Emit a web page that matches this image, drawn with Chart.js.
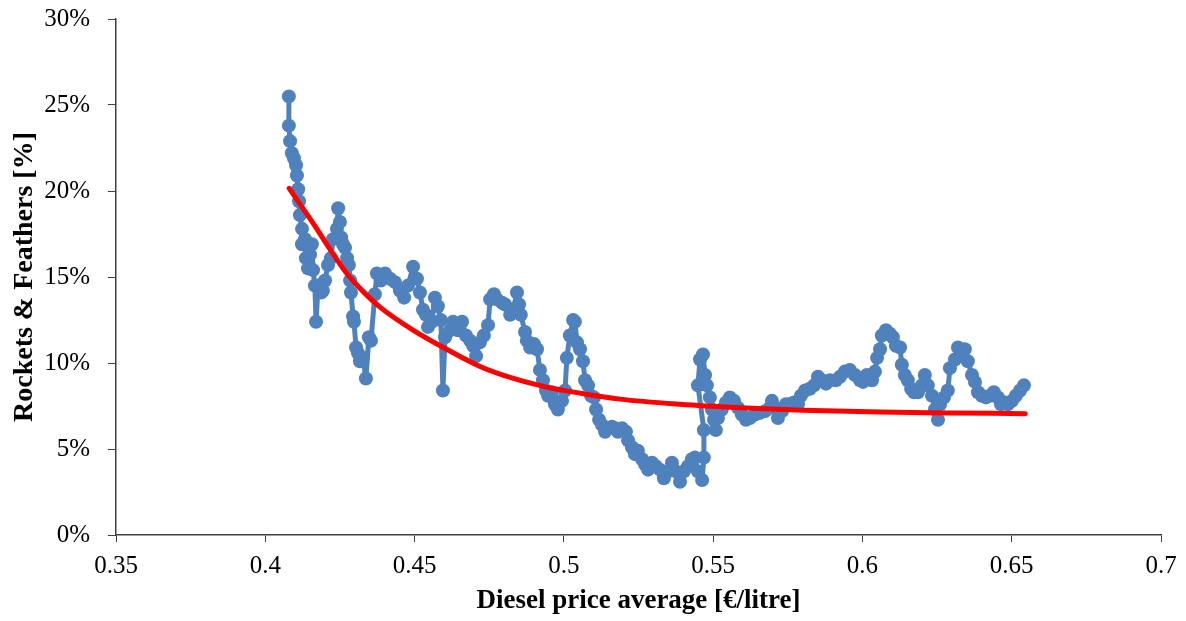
<!DOCTYPE html>
<html lang="en">
<head>
    <meta charset="UTF-8">
    <title>Rockets & Feathers vs Diesel price</title>
    <script src="https://cdn.jsdelivr.net/npm/chart.js"></script>
    <style>
        html, body { margin: 0; padding: 0; background: #fff; }
        canvas { display: block; }
    </style>
</head>
<body>
    <canvas id="rfChart" width="1186" height="621"></canvas>
    <script>
        // diesel price average (€/litre) and rockets & feathers (%)
        const priceX = [
            0.4079, 0.4079, 0.4083, 0.4089, 0.4096, 0.4103, 0.4106, 0.4110, 0.4113, 0.4116,
            0.4123, 0.4123, 0.4133, 0.4136, 0.4143, 0.4150, 0.4156, 0.4160, 0.4166, 0.4170,
            0.4177, 0.4187, 0.4193, 0.4200, 0.4210, 0.4220, 0.4227, 0.4240, 0.4244, 0.4250,
            0.4254, 0.4260, 0.4267, 0.4274, 0.4280, 0.4284, 0.4287, 0.4294, 0.4297, 0.4304,
            0.4310, 0.4317, 0.4327, 0.4337, 0.4347, 0.4354, 0.4367, 0.4374, 0.4387, 0.4401,
            0.4418, 0.4434, 0.4451, 0.4465, 0.4478, 0.4495, 0.4508, 0.4518, 0.4528, 0.4538,
            0.4545, 0.4558, 0.4568, 0.4578, 0.4588, 0.4595, 0.4602, 0.4619, 0.4629, 0.4645,
            0.4659, 0.4672, 0.4686, 0.4696, 0.4706, 0.4719, 0.4732, 0.4746, 0.4753, 0.4766,
            0.4776, 0.4793, 0.4803, 0.4820, 0.4830, 0.4843, 0.4850, 0.4856, 0.4870, 0.4876,
            0.4887, 0.4900, 0.4910, 0.4920, 0.4930, 0.4940, 0.4947, 0.4960, 0.4970, 0.4980,
            0.4994, 0.5004, 0.5010, 0.5020, 0.5031, 0.5037, 0.5044, 0.5054, 0.5064, 0.5071,
            0.5081, 0.5091, 0.5101, 0.5108, 0.5118, 0.5128, 0.5138, 0.5148, 0.5161, 0.5171,
            0.5181, 0.5195, 0.5208, 0.5215, 0.5228, 0.5238, 0.5248, 0.5262, 0.5272, 0.5282,
            0.5295, 0.5308, 0.5322, 0.5335, 0.5349, 0.5362, 0.5375, 0.5389, 0.5402, 0.5416,
            0.5429, 0.5439, 0.5449, 0.5463, 0.5469, 0.5469, 0.5449, 0.5456, 0.5466, 0.5473,
            0.5479, 0.5489, 0.5496, 0.5503, 0.5509, 0.5516, 0.5529, 0.5543, 0.5556, 0.5570,
            0.5583, 0.5596, 0.5610, 0.5623, 0.5640, 0.5657, 0.5674, 0.5690, 0.5697, 0.5707,
            0.5717, 0.5731, 0.5744, 0.5757, 0.5771, 0.5784, 0.5794, 0.5808, 0.5824, 0.5838,
            0.5851, 0.5864, 0.5878, 0.5891, 0.5911, 0.5925, 0.5941, 0.5958, 0.5975, 0.5992,
            0.6002, 0.6015, 0.6032, 0.6042, 0.6049, 0.6059, 0.6065, 0.6079, 0.6092, 0.6102,
            0.6112, 0.6126, 0.6132, 0.6142, 0.6152, 0.6163, 0.6173, 0.6186, 0.6199, 0.6209,
            0.6219, 0.6233, 0.6243, 0.6253, 0.6260, 0.6273, 0.6286, 0.6293, 0.6310, 0.6320,
            0.6333, 0.6343, 0.6353, 0.6367, 0.6377, 0.6387, 0.6400, 0.6414, 0.6427, 0.6440,
            0.6454, 0.6464, 0.6477, 0.6487, 0.6501, 0.6514, 0.6528, 0.6541
        ];
        const rocketsPct = [
            25.5, 23.8, 22.9, 22.2, 21.9, 21.5, 20.9, 20.1, 19.4, 18.6,
            17.8, 16.9, 17.2, 16.1, 15.5, 16.3, 16.9, 15.4, 14.5, 12.4,
            14.5, 14.1, 14.2, 14.8, 15.7, 16.1, 17.2, 17.8, 19.0, 18.2,
            17.3, 16.9, 16.7, 16.1, 15.7, 14.8, 14.1, 12.7, 12.4, 10.9,
            10.6, 10.1, 10.3, 9.1, 11.5, 11.3, 14.0, 15.2, 14.8, 15.2,
            14.9, 14.7, 14.2, 13.8, 14.5, 15.6, 14.9, 14.1, 13.1, 12.8,
            12.1, 12.4, 13.8, 13.3, 12.5, 8.4, 11.5, 11.9, 12.4, 11.9,
            12.4, 11.6, 11.3, 11.0, 10.4, 11.2, 11.6, 12.2, 13.7, 14.0,
            13.7, 13.5, 13.4, 12.8, 13.1, 14.1, 13.4, 12.8, 11.8, 11.3,
            10.9, 11.1, 10.8, 9.6, 9.0, 8.4, 8.1, 8.3, 7.6, 7.3,
            7.8, 8.4, 10.3, 11.6, 12.5, 12.4, 11.2, 10.8, 10.1, 9.0,
            8.7, 8.1, 8.0, 7.3, 6.7, 6.4, 6.0, 6.2, 6.3, 6.2,
            6.0, 6.2, 6.0, 5.5, 5.1, 4.7, 4.9, 4.4, 4.1, 3.8,
            4.2, 4.0, 3.8, 3.3, 3.7, 4.2, 3.7, 3.1, 3.7, 4.0,
            4.4, 4.5, 3.7, 3.2, 4.5, 6.1, 8.7, 10.2, 10.5, 9.3,
            8.7, 8.0, 7.3, 6.7, 6.1, 6.8, 7.3, 7.7, 8.0, 7.8,
            7.4, 7.0, 6.7, 6.8, 7.0, 7.1, 7.2, 7.4, 7.8, 7.4,
            6.8, 7.2, 7.6, 7.6, 7.7, 7.6, 8.1, 8.4, 8.5, 8.7,
            9.2, 9.0, 8.8, 9.0, 9.0, 9.2, 9.5, 9.6, 9.3, 9.0,
            8.9, 9.3, 9.0, 9.5, 10.3, 10.8, 11.6, 11.9, 11.7, 11.5,
            11.0, 10.9, 9.9, 9.3, 9.0, 8.5, 8.3, 8.3, 8.7, 9.3,
            8.7, 8.1, 7.3, 6.7, 7.6, 8.0, 8.4, 9.7, 10.2, 10.9,
            10.6, 10.8, 10.1, 9.3, 8.9, 8.3, 8.1, 8.0, 8.1, 8.3,
            8.0, 7.6, 7.7, 7.6, 7.8, 8.1, 8.4, 8.7
        ];

        // fitted trend curve, sampled by eye from the red line
        const trendX = [0.4080, 0.4161, 0.4217, 0.4273, 0.4328, 0.4384, 0.4496, 0.4607, 0.4719, 0.4831,
                        0.4942, 0.5054, 0.5188, 0.5389, 0.5590, 0.5800, 0.6059, 0.6300, 0.6545];
        const trendPct = [20.15, 18.1, 16.6, 15.2, 14.15, 13.25, 11.9, 10.8, 9.8, 9.1,
                          8.6, 8.25, 7.9, 7.6, 7.4, 7.25, 7.15, 7.1, 7.05];

        const xTicks = [0.35, 0.4, 0.45, 0.5, 0.55, 0.6, 0.65, 0.7];

        const pts = priceX.map((x, i) => ({ x: x, y: rocketsPct[i] }));
        const trend = trendX.map((x, i) => ({ x: x, y: trendPct[i] }));

        const serif = "'Liberation Serif', 'Times New Roman', serif";
        const axisColor = '#404040';

        const ctx = document.getElementById('rfChart').getContext('2d');
        new Chart(ctx, {
            type: 'scatter',
            data: {
                datasets: [{
                    label: 'Trend',
                    data: trend,
                    showLine: true,
                    borderColor: '#FF0000',
                    borderWidth: 5,
                    borderCapStyle: 'round',
                    pointRadius: 0,
                    cubicInterpolationMode: 'monotone',
                    order: 0
                }, {
                    label: 'Rockets & Feathers',
                    data: pts,
                    showLine: true,
                    borderColor: '#4F81BD',
                    backgroundColor: '#4F81BD',
                    borderWidth: 5,
                    borderJoinStyle: 'round',
                    borderCapStyle: 'round',
                    pointRadius: 7,
                    pointBorderWidth: 0,
                    order: 1
                }]
            },
            options: {
                responsive: false,
                animation: false,
                layout: { padding: { top: 19, right: 25, left: 0, bottom: 0 } },
                plugins: {
                    legend: { display: false },
                    tooltip: { enabled: false }
                },
                scales: {
                    x: {
                        type: 'linear',
                        min: 0.35,
                        max: 0.7,
                        afterFit: (s) => { s.height = 86; },
                        afterBuildTicks: (s) => { s.ticks = xTicks.map(v => ({ value: v })); },
                        grid: { drawOnChartArea: false, tickLength: 7, color: axisColor },
                        border: { color: axisColor, width: 1.5 },
                        ticks: {
                            color: '#000',
                            padding: 9,
                            maxRotation: 0,
                            font: { family: serif, size: 25 },
                            callback: (v) => String(Math.round(v * 100) / 100)
                        },
                        title: {
                            display: true,
                            text: 'Diesel price average [€/litre]',
                            color: '#000',
                            padding: { top: 0, bottom: 4 },
                            font: { family: serif, size: 27, weight: 'bold' }
                        }
                    },
                    y: {
                        min: 0,
                        max: 30,
                        afterFit: (s) => {
                            s.width = 116;
                            // keep the wide label gap from pushing the plot down
                            s.paddingTop = 15;
                            s.paddingBottom = 15;
                        },
                        grid: { drawOnChartArea: false, tickLength: 8, color: axisColor },
                        border: { color: axisColor, width: 1.5 },
                        ticks: {
                            stepSize: 5,
                            color: '#000',
                            padding: 18,
                            font: { family: serif, size: 25 },
                            callback: (v) => v + '%'
                        },
                        title: {
                            display: true,
                            text: 'Rockets & Feathers [%]',
                            color: '#000',
                            padding: { top: 8, bottom: 0 },
                            font: { family: serif, size: 28, weight: 'bold' }
                        }
                    }
                }
            }
        });
    </script>
</body>
</html>
